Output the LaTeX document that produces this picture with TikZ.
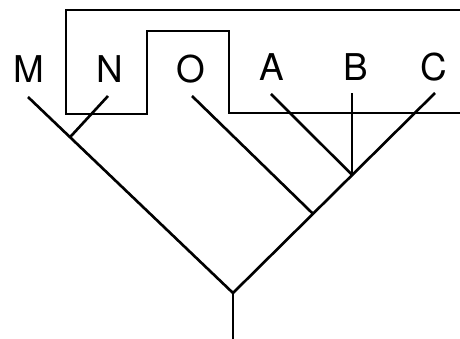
\documentclass[tikz,border=0pt]{standalone}
\usepackage{fontspec}
\setmainfont{TeX Gyre Heros}
\usepackage{tikz}
\usetikzlibrary{calc,positioning}

\begin{document}
\begin{tikzpicture}[branch/.style={line width=1.5pt},
    thin branch/.style={line width=1pt},
    group/.style={line width=1pt},
    taxon/.style={font=\fontsize{21}{24}\selectfont, inner sep=0pt}]
    \useasboundingbox (0,0) rectangle (9.2,6.78);
    % taxa labels
    \node[taxon] (M) at (0.58,5.40) {M};
    \node[taxon] (N) at (2.20,5.40) {N};
    \node[taxon] (O) at (3.82,5.40) {O};
    \node[taxon] (A) at (5.44,5.44) {A};
    \node[taxon] (B) at (7.12,5.44) {B};
    \node[taxon] (C) at (8.68,5.44) {C};
    % tips, root and branching points
    \coordinate (tipM) at (0.56,4.84);
    \coordinate (tipN) at (2.16,4.86);
    \coordinate (tipO) at (3.84,4.86);
    \coordinate (tipA) at (5.42,4.90);
    \coordinate (tipC) at (8.70,4.92);
    \coordinate (root) at (4.66,0.92);
    \coordinate (base) at (4.66,0);
    \coordinate (jMN) at ($(tipM)!0.205!(root)$);
    \coordinate (jO) at ($(root)!0.396!(tipC)$);
    \coordinate (jABC) at ($(root)!0.59!(tipC)$);
    \coordinate (tipB) at (jABC |- 0,4.92);
    % tree
    \draw[thin branch] (base) -- (root);
    \draw[branch] (tipM) -- (root) -- (tipC);
    \draw[branch] (jMN) -- (tipN);
    \draw[branch] (jO) -- (tipO);
    \draw[branch] (jABC) -- (tipA);
    \draw[thin branch] (jABC) -- (tipB);
    % grouping outline
    \draw[group] (9.2,6.58) -- (1.32,6.58) -- (1.32,4.50) -- (2.94,4.50)
        -- (2.94,6.16) -- (4.58,6.16) -- (4.58,4.52) -- (9.2,4.52);
\end{tikzpicture}
\end{document}
